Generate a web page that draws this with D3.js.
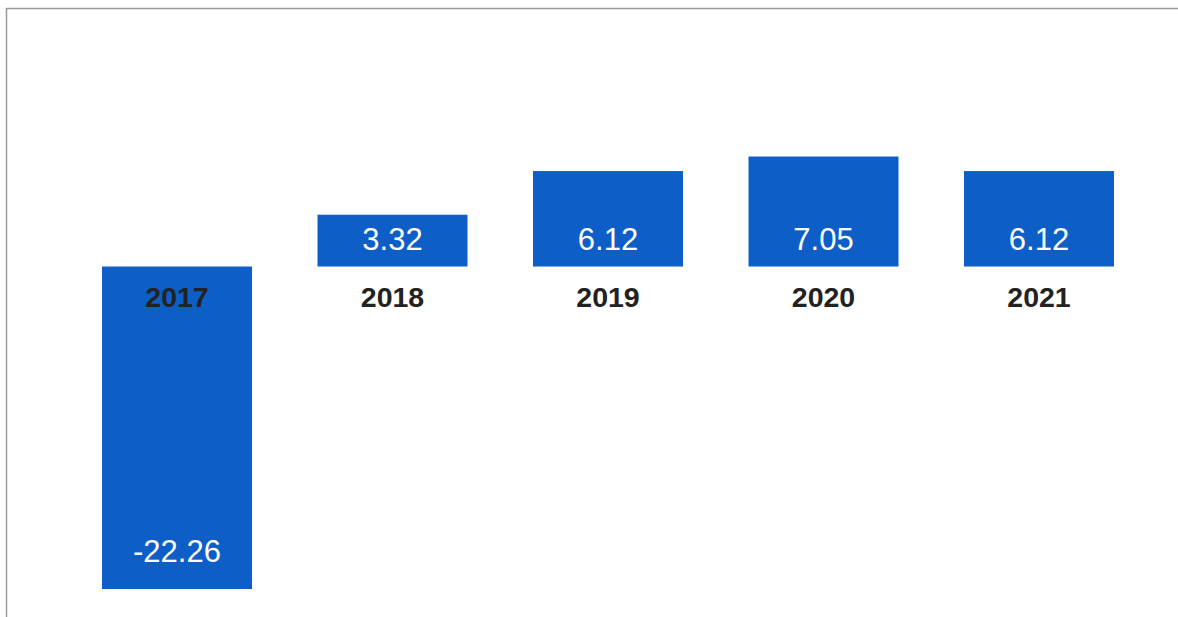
<!DOCTYPE html>
<html>
<head>
<meta charset="utf-8">
<script src="https://cdn.jsdelivr.net/npm/d3@7"></script>
<style>
  html, body { margin: 0; padding: 0; background: #fff; overflow: hidden; }
  svg { display: block; font-family: Arial, "Liberation Sans", sans-serif; }
</style>
</head>
<body>
<div id="chart"></div>
<script>
const years = ["2017", "2018", "2019", "2020", "2021"];
const values = [-22.26, 3.32, 6.12, 7.05, 6.12];

(function () {
  const width = 1178, height = 617;
  const data = years.map((year, i) => ({ year, value: values[i] }));

  const svg = d3.select("#chart").append("svg")
    .attr("width", width)
    .attr("height", height);

  // frame, cut off at the right and bottom edges
  svg.append("rect")
    .attr("x", 6.5)
    .attr("y", 8.5)
    .attr("width", width)
    .attr("height", height)
    .attr("fill", "none")
    .attr("stroke", "#9a9a9a")
    .attr("stroke-width", 1.5);

  const x = d3.scaleBand()
    .domain(years)
    .range([102, 1114])
    .paddingInner(0.304)
    .paddingOuter(0);

  const y = d3.scaleLinear()
    .domain([-20.67, 16.57])
    .range([589, 8])
    .clamp(true);

  const g = svg.append("g");

  g.selectAll(".bar")
    .data(data)
    .join("rect")
    .attr("class", "bar")
    .attr("x", d => x(d.year))
    .attr("width", x.bandwidth())
    .attr("y", d => Math.min(y(0), y(d.value)))
    .attr("height", d => Math.abs(y(d.value) - y(0)))
    .attr("fill", "#0d5ec6");

  g.selectAll(".value")
    .data(data)
    .join("text")
    .attr("class", "value")
    .attr("x", d => x(d.year) + x.bandwidth() / 2)
    .attr("y", d => d.value >= 0 ? y(0) - 16.5 : y(d.value) - 27)
    .attr("text-anchor", "middle")
    .attr("fill", "#fff")
    .style("font-size", "31px")
    .text(d => d.value.toFixed(2));

  g.selectAll(".year")
    .data(data)
    .join("text")
    .attr("class", "year")
    .attr("x", d => x(d.year) + x.bandwidth() / 2)
    .attr("y", y(0) + 40.5)
    .attr("text-anchor", "middle")
    .attr("fill", "#222")
    .style("font-size", "28.5px")
    .style("font-weight", "bold")
    .text(d => d.year);
})();
</script>
</body>
</html>
